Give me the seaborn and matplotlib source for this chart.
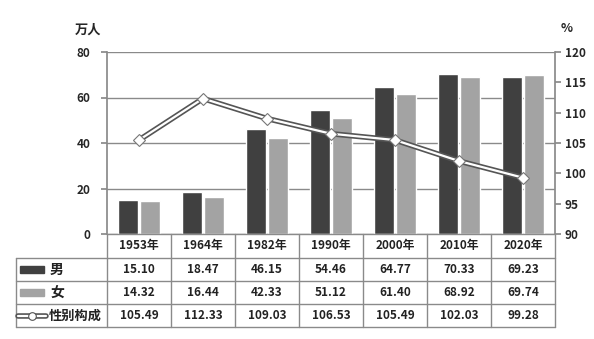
import matplotlib
matplotlib.use("Agg")
import matplotlib.pyplot as plt
import matplotlib.transforms as mtransforms
from matplotlib.lines import Line2D
from matplotlib.patches import Rectangle
import seaborn as sns
import pandas as pd

years = ["1953年", "1964年", "1982年", "1990年", "2000年", "2010年", "2020年"]
male = [15.10, 18.47, 46.15, 54.46, 64.77, 70.33, 69.23]
female = [14.32, 16.44, 42.33, 51.12, 61.40, 68.92, 69.74]
ratio = [105.49, 112.33, 109.03, 106.53, 105.49, 102.03, 99.28]
series_names = ["男", "女", "性别构成"]
left_ticks = [0, 20, 40, 60, 80]
right_ticks = [90, 95, 100, 105, 110, 115, 120]

sns.set_theme(style="white")
plt.rcParams['font.family'] = ['Noto Sans CJK SC', 'DejaVu Sans']

W, H = 594, 339
fig = plt.figure(figsize=(W / 100, H / 100), dpi=100)
L, R, T, B = 107, 555, 52, 234
ax = fig.add_axes([L / W, 1 - B / H, (R - L) / W, (B - T) / H])

df = pd.DataFrame({
    "year": years * 2,
    "value": male + female,
    "sex": [series_names[0]] * len(years) + [series_names[1]] * len(years),
})
dark, light = "#404040", "#a3a3a3"
sns.barplot(data=df, x="year", y="value", hue="sex", palette=[dark, light],
            width=0.7, gap=0.1, ax=ax, legend=False, saturation=1)
ax.set_ylim(0, 80)
ax.set_xlim(-0.5, len(years) - 0.5)
ax.set_yticks(left_ticks)
ax.set_xticks([])
ax.set_xlabel("")
ax.set_ylabel("")
ax.yaxis.grid(True, color="#8a8a8a", linewidth=1)
ax.set_axisbelow(True)
for s in ["top", "right", "bottom"]:
    ax.spines[s].set_visible(False)
ax.spines["left"].set_color("#8a8a8a")
ax.tick_params(axis="y", which="both", left=True, length=4, color="#8a8a8a",
               labelsize=8.5, pad=8)
for lab in ax.get_yticklabels():
    lab.set_fontweight("bold")

ax2 = ax.twinx()
x = list(range(len(years)))
ax2.plot(x, ratio, color="#555555", linewidth=4, solid_capstyle="round", zorder=3)
ax2.plot(x, ratio, color="white", linewidth=1.6, zorder=4)
ax2.plot(x, ratio, linestyle="none", marker="D", markersize=6,
         markerfacecolor="white", markeredgecolor="#777777", markeredgewidth=0.8, zorder=5)
ax2.set_ylim(90, 120)
ax2.set_yticks(right_ticks)
for s in ["top", "left", "bottom"]:
    ax2.spines[s].set_visible(False)
ax2.spines["right"].set_color("#8a8a8a")
ax2.tick_params(axis="y", right=True, length=4, color="#8a8a8a", labelsize=8.5, pad=3)
for lab in ax2.get_yticklabels():
    lab.set_fontweight("bold")
ax2.grid(False)

fig.text(88 / W, 1 - 30 / H, "万人", ha="center", va="center", fontsize=9.5, fontweight="bold")
fig.text(567 / W, 1 - 28 / H, "%", ha="center", va="center", fontsize=9, fontweight="bold")

# data table
tr = mtransforms.blended_transform_factory(ax.transData, fig.transFigure)
fy = lambda py: 1 - py / H
fx = lambda px: px / W
rows_y = [234, 258, 281, 304, 327]
bc = "#8a8a8a"
# horizontal lines
fig.add_artist(Line2D([fx(L), fx(R)], [fy(rows_y[0])] * 2, color=bc, lw=1))
for yy in rows_y[1:]:
    fig.add_artist(Line2D([fx(16), fx(R)], [fy(yy)] * 2, color=bc, lw=1))
# vertical lines
fig.add_artist(Line2D([fx(16), fx(16)], [fy(258), fy(327)], color=bc, lw=1))
for k in range(len(years) + 1):
    xx = k - 0.5
    fig.add_artist(Line2D([xx, xx], [fy(234), fy(327)], color=bc, lw=1, transform=tr))
# header and values
for i, yr in enumerate(years):
    fig.text(i, fy(246), yr, transform=tr, ha="center", va="center", fontsize=8.5, fontweight="bold", color="#222222")
    fig.text(i, fy(269.5), f"{male[i]:.2f}", transform=tr, ha="center", va="center", fontsize=8.5, fontweight="bold", color="#222222")
    fig.text(i, fy(292.5), f"{female[i]:.2f}", transform=tr, ha="center", va="center", fontsize=8.5, fontweight="bold", color="#222222")
    fig.text(i, fy(315.5), f"{ratio[i]:.2f}", transform=tr, ha="center", va="center", fontsize=8.5, fontweight="bold", color="#222222")
# legend keys
fig.add_artist(Rectangle((fx(20), fy(273)), fx(44) - fx(20), fy(266) - fy(273), color=dark))
fig.add_artist(Rectangle((fx(20), fy(296)), fx(44) - fx(20), fy(289) - fy(296), color=light))
fig.add_artist(Line2D([fx(18), fx(46)], [fy(315.5)] * 2, color="#555555", lw=4))
fig.add_artist(Line2D([fx(18), fx(46)], [fy(315.5)] * 2, color="white", lw=1.6))
fig.add_artist(Line2D([fx(32)], [fy(315.5)], marker="o", markersize=5.5, markerfacecolor="white",
                      markeredgecolor="#555555", markeredgewidth=0.8, linestyle="none"))
fig.text(fx(50), fy(269.5), series_names[0], ha="left", va="center", fontsize=10, fontweight="bold", color="#222222")
fig.text(fx(50), fy(292.5), series_names[1], ha="left", va="center", fontsize=10, fontweight="bold", color="#222222")
fig.text(fx(49), fy(315.5), series_names[2], ha="left", va="center", fontsize=9.5, fontweight="bold", color="#222222")

fig.savefig("out.png", dpi=100)
